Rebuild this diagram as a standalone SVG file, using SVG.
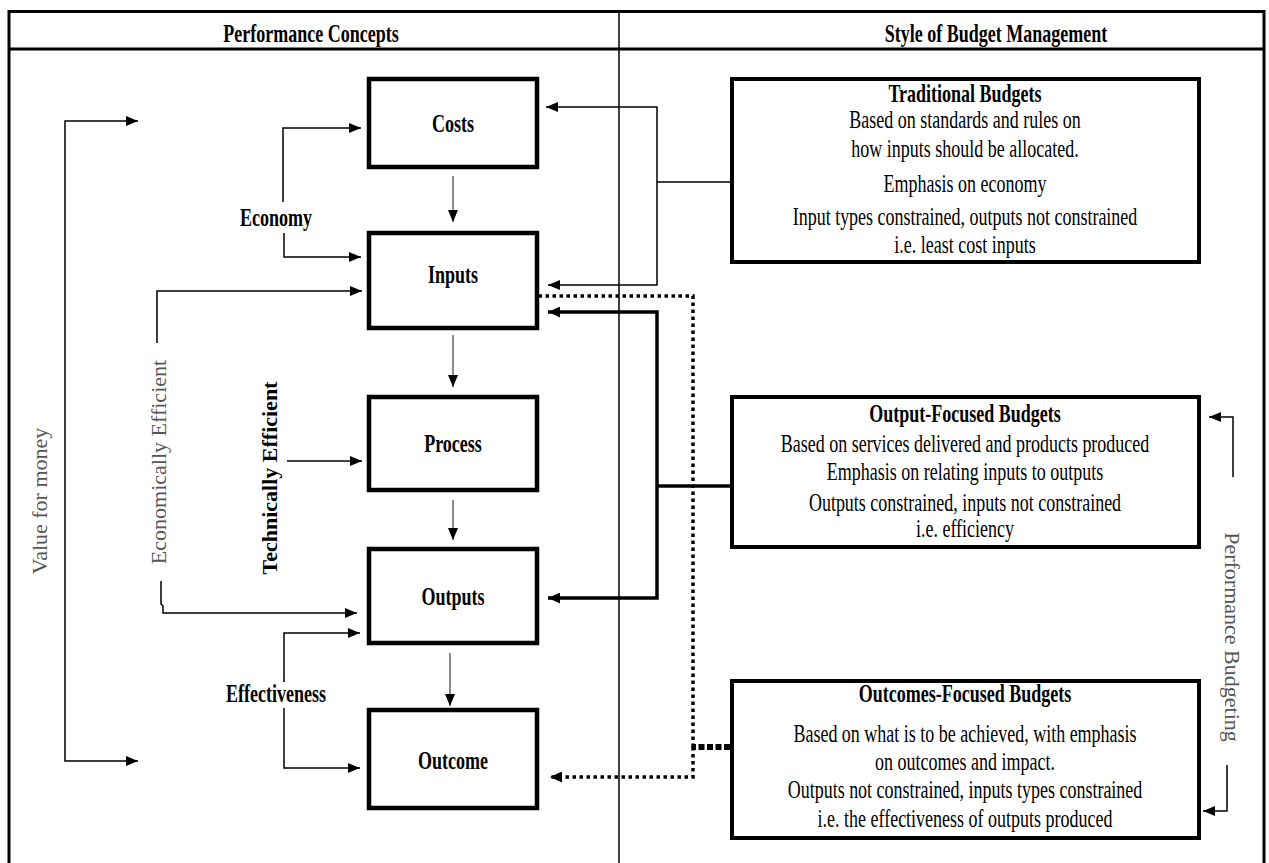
<svg xmlns="http://www.w3.org/2000/svg" width="1269" height="863" viewBox="0 0 1269 863">
<style>
.frame{fill:none;stroke:#000;stroke-width:3}
.box{fill:#fff;stroke:#000;stroke-width:4.5}
.bbox{fill:#fff;stroke:#000;stroke-width:4}
.t{font-family:"Liberation Serif","Times New Roman",serif;font-size:25px;text-anchor:middle;fill:#000}
.b{font-weight:bold}
.v{font-family:"Liberation Serif","Times New Roman",serif;font-size:22px;text-anchor:middle;fill:#000}
.g{fill:#555}
.thin{fill:none;stroke:#000;stroke-width:1.5}
.down{fill:none;stroke:#666;stroke-width:1.5}
.thick{fill:none;stroke:#000;stroke-width:3.5}
.dot{fill:none;stroke:#000;stroke-width:3.5;stroke-dasharray:3.5 3.5}
.dot2{fill:none;stroke:#000;stroke-width:6;stroke-dasharray:6 2.5}
</style>
<defs>
<marker id="ah" markerUnits="userSpaceOnUse" viewBox="0 0 12 10" markerWidth="12" markerHeight="10" refX="12" refY="5" orient="auto"><path d="M0,0 L12,5 L0,10 z" fill="#000"/></marker>
<marker id="ahb" markerUnits="userSpaceOnUse" viewBox="0 0 12 11" markerWidth="12" markerHeight="11" refX="12" refY="5.5" orient="auto"><path d="M0,0 L12,5.5 L0,11 z" fill="#000"/></marker>
</defs>
<rect width="1269" height="863" fill="#fff"/>
<g id="frame">
<path class="frame" d="M9,863 V11.5 H1264 V863"/>
<line x1="9" y1="49" x2="1264" y2="49" stroke="#000" stroke-width="3"/>
<line x1="619" y1="13" x2="619" y2="863" stroke="#000" stroke-width="1.5"/>
<text class="t b" transform="translate(311,42) scale(0.72,1)">Performance Concepts</text>
<text class="t b" transform="translate(996,42) scale(0.72,1)">Style of Budget Management</text>
</g>
<g id="connectors">
<path class="thin" d="M65,441 V121 H138" marker-end="url(#ah)"/>
<path class="thin" d="M65,441 V761 H138" marker-end="url(#ah)"/>
<path class="thin" d="M283,202 V128 H361" marker-end="url(#ah)"/>
<path class="thin" d="M284,233 V257 H361" marker-end="url(#ah)"/>
<path class="thin" d="M157,343 V291 H362" marker-end="url(#ah)"/>
<path class="thin" d="M161,581 V604 L163,606 V613 H357" marker-end="url(#ah)"/>
<path class="thin" d="M287,461 H362" marker-end="url(#ah)"/>
<path class="thin" d="M284,682 V633 H360" marker-end="url(#ah)"/>
<path class="thin" d="M284,708 V768 H360" marker-end="url(#ah)"/>
<path class="down" d="M453,176 V222" marker-end="url(#ah)"/>
<path class="down" d="M453,335 V387" marker-end="url(#ah)"/>
<path class="down" d="M453,500 V540" marker-end="url(#ah)"/>
<path class="down" d="M450,653 V706" marker-end="url(#ah)"/>
<path class="thin" d="M730,182 H657"/>
<path class="thin" d="M657,182 V107 H546" marker-end="url(#ah)"/>
<path class="thin" d="M657,182 V285 H548" marker-end="url(#ah)"/>
<path class="thick" d="M730,486 H657"/>
<path class="thick" d="M657,486 V312 H548" marker-end="url(#ahb)"/>
<path class="thick" d="M657,486 V598 H548" marker-end="url(#ahb)"/>
<path class="dot2" d="M730,747 H693"/>
<path class="dot" d="M693,747 V296 H512" marker-end="url(#ahb)"/>
<path class="dot" d="M693,747 V777 H550" marker-end="url(#ahb)"/>
<path class="thin" d="M1233,477 V417 H1209" marker-end="url(#ah)"/>
<path class="thin" d="M1227,765 V811 H1203" marker-end="url(#ah)"/>
</g>
<g id="labels">
<text class="v g" transform="translate(47,501) rotate(-90)">Value for money</text>
<text class="t b" transform="translate(276,226) scale(0.72,1)">Economy</text>
<text class="v g" transform="translate(166,462) rotate(-90)">Economically  Efficient</text>
<text class="v b" transform="translate(277,478) rotate(-90)">Technically  Efficient</text>
<text class="t b" transform="translate(276,702) scale(0.72,1)">Effectiveness</text>
<text class="v g" transform="translate(1225,637) rotate(90)">Performance  Budgeting</text>
</g>
<g id="costs">
<rect class="box" x="369" y="79" width="168" height="88"/>
<text class="t b" transform="translate(453,132) scale(0.72,1)">Costs</text>
</g>
<g id="inputs">
<rect class="box" x="369" y="233" width="168" height="95"/>
<text class="t b" transform="translate(453,283) scale(0.72,1)">Inputs</text>
</g>
<g id="process">
<rect class="box" x="369" y="397" width="168" height="93"/>
<text class="t b" transform="translate(453,452) scale(0.72,1)">Process</text>
</g>
<g id="outputs">
<rect class="box" x="369" y="549" width="168" height="94"/>
<text class="t b" transform="translate(453,605) scale(0.72,1)">Outputs</text>
</g>
<g id="outcome">
<rect class="box" x="369" y="710" width="168" height="98"/>
<text class="t b" transform="translate(453,769) scale(0.72,1)">Outcome</text>
</g>
<g id="traditional">
<rect class="bbox" x="732" y="79" width="467" height="183"/>
<text class="t b" transform="translate(965,102) scale(0.72,1)">Traditional Budgets</text>
<text class="t" transform="translate(965,128) scale(0.72,1)">Based on standards and rules on</text>
<text class="t" transform="translate(965,157) scale(0.72,1)">how inputs should be allocated.</text>
<text class="t" transform="translate(965,192) scale(0.72,1)">Emphasis on economy</text>
<text class="t" transform="translate(965,225) scale(0.72,1)">Input types constrained, outputs not constrained</text>
<text class="t" transform="translate(965,253) scale(0.72,1)">i.e. least cost inputs</text>
</g>
<g id="output-focused">
<rect class="bbox" x="732" y="397" width="467" height="150"/>
<text class="t b" transform="translate(965,422) scale(0.72,1)">Output-Focused Budgets</text>
<text class="t" transform="translate(965,452) scale(0.72,1)">Based on services delivered and products produced</text>
<text class="t" transform="translate(965,480) scale(0.72,1)">Emphasis on relating inputs to outputs</text>
<text class="t" transform="translate(965,511) scale(0.72,1)">Outputs constrained, inputs not constrained</text>
<text class="t" transform="translate(965,537) scale(0.72,1)">i.e. efficiency</text>
</g>
<g id="outcomes-focused">
<rect class="bbox" x="732" y="681" width="467" height="157"/>
<text class="t b" transform="translate(965,702) scale(0.72,1)">Outcomes-Focused Budgets</text>
<text class="t" transform="translate(965,742) scale(0.72,1)">Based on what is to be achieved, with emphasis</text>
<text class="t" transform="translate(965,770) scale(0.72,1)">on outcomes and impact.</text>
<text class="t" transform="translate(965,798) scale(0.72,1)">Outputs not constrained, inputs types constrained</text>
<text class="t" transform="translate(965,827) scale(0.72,1)">i.e. the effectiveness of outputs produced</text>
</g>
</svg>
